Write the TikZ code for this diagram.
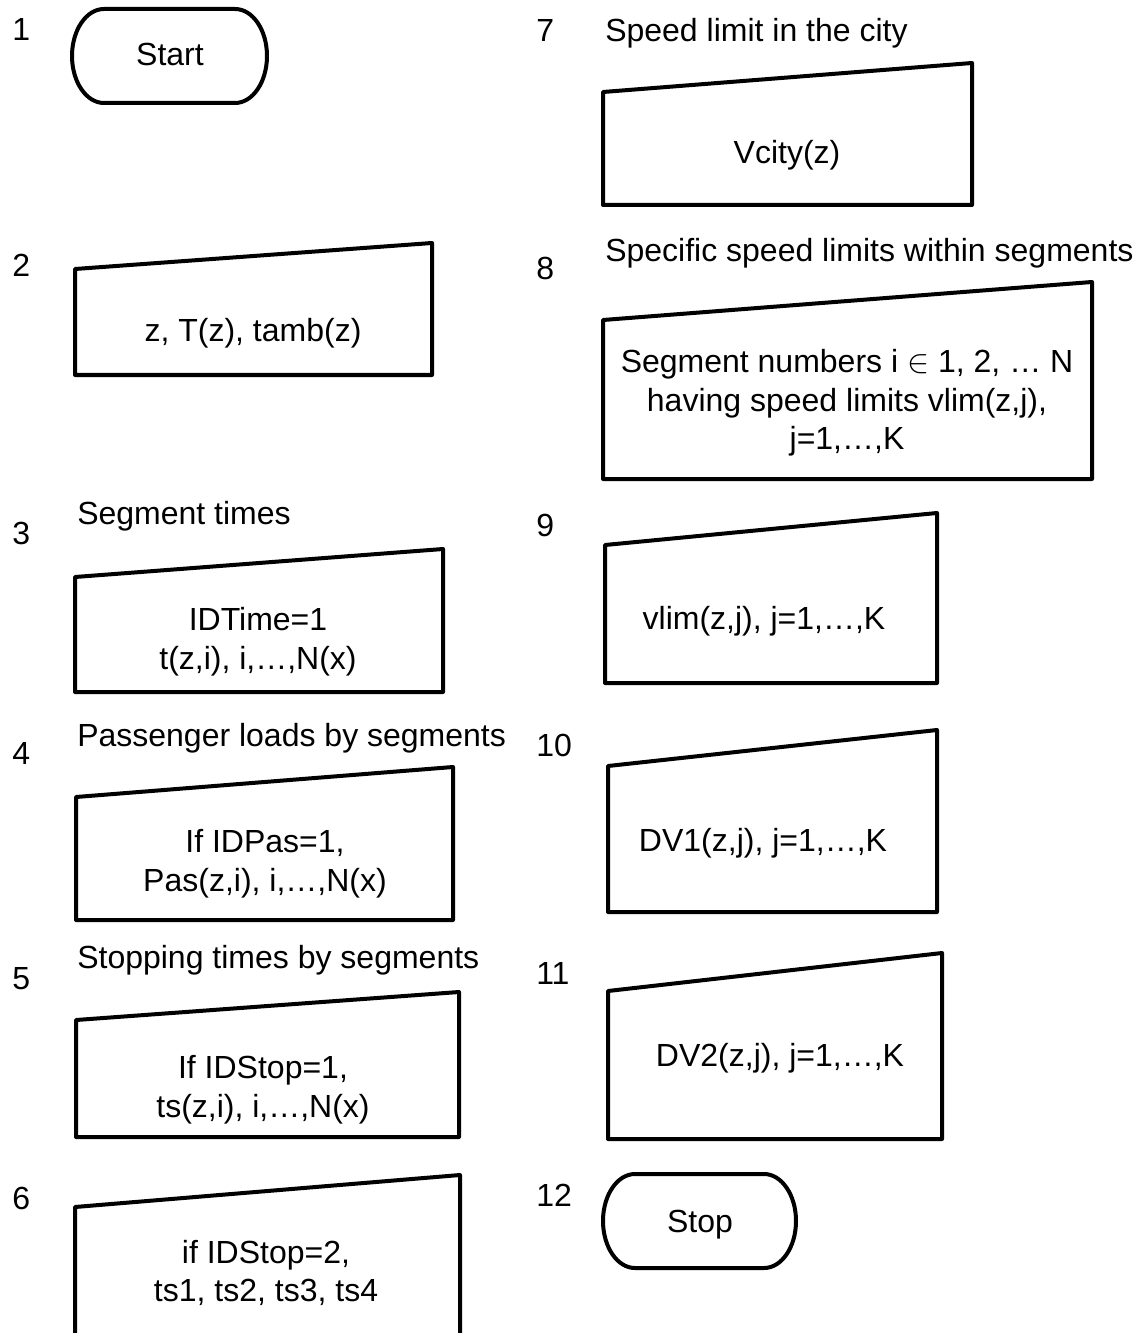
\documentclass[tikz,border=0pt]{standalone}
\usepackage{fontspec}
\setmainfont{Liberation Sans}
% outline of a manual-input block: left, right, top-left y, top-right y, bottom y
\newcommand\manualinput[5]{\draw[frame] (#1,#3) -- (#2,#4) -- (#2,#5) -- (#1,#5) -- cycle;}
% terminator (rounded ends): left, right, top, bottom
\newcommand\terminal[4]{\draw[frame] ({#1+32},#3) -- ({#2-32},#3)
  arc[start angle=90,end angle=-90,x radius=24pt,y radius={(#4-#3)*0.375pt}]
  -- ({#1+32},#4)
  arc[start angle=270,end angle=90,x radius=24pt,y radius={(#4-#3)*0.375pt}] -- cycle;}
\begin{document}
\begin{tikzpicture}[x=0.75pt,y=-0.75pt,
  frame/.style={line width=3pt,line join=round},
  txt/.style={font=\fontsize{24}{29}\selectfont,inner sep=0pt,text height=17.2pt,text depth=0pt},
  multi/.style={font=\fontsize{24}{29}\selectfont,inner sep=0pt,align=center},
  num/.style={txt,anchor=west},
  head/.style={txt,anchor=west}]
\useasboundingbox (0,0) rectangle (1143,1333);
\clip (0,0) rectangle (1143,1333);

% left column
\node[num] (n1) at (12,29) {1};
\terminal{72}{267}{9}{103}
\node[txt] (start) at (170,54) {Start};

\node[num] (n2) at (12,265) {2};
\manualinput{75}{432}{269}{243}{375}
\node[txt] (b2) at (253,330) {z, T(z), tamb(z)};

\node[num] (n3) at (12,533) {3};
\node[head] (h3) at (77,513) {Segment times};
\manualinput{75}{443}{577}{549}{692}
\node[multi] (b3) at (258,642) {IDTime=1\\t(z,i), i,\dots,N(x)};

\node[num] (n4) at (12,753) {4};
\node[head] (h4) at (77,735) {Passenger loads by segments};
\manualinput{76}{453}{797}{767}{920}
\node[multi] (b4) at (265,864) {If IDPas=1,\\Pas(z,i), i,\dots,N(x)};

\node[num] (n5) at (12,978) {5};
\node[head] (h5) at (77,957) {Stopping times by segments};
\manualinput{76}{459}{1020}{992}{1137}
\node[multi] (b5) at (263,1090) {If IDStop=1,\\ts(z,i), i,\dots,N(x)};

\node[num] (n6) at (12,1198) {6};
\manualinput{75}{460}{1207}{1175}{1345}
\node[multi] (b6) at (266,1273) {if IDStop=2,\\ts1, ts2, ts3, ts4};

% right column
\node[num] (n7) at (536,30) {7};
\node[head] (h7) at (605,30) {Speed limit in the city};
\manualinput{603}{972}{92}{63}{205}
\node[txt] (b7) at (787,152) {Vcity(z)};

\node[num] (n8) at (536,268) {8};
\node[head] (h8) at (605,250) {Specific speed limits within segments};
\manualinput{603}{1092}{320}{282}{479}
\node[multi] (b8) at (847,403) {Segment numbers i \ensuremath{\in} 1, 2, \dots{} N\\having speed limits vlim(z,j),\\j=1,\dots,K};

\node[num] (n9) at (536,525) {9};
\manualinput{605}{937}{545}{513}{683}
\node[txt] (b9) at (764,618) {vlim(z,j), j=1,\dots,K};

\node[num] (n10) at (536,745) {10};
\manualinput{608}{937}{766}{730}{912}
\node[txt] (b10) at (763,840) {DV1(z,j), j=1,\dots,K};

\node[num] (n11) at (536,973) {11};
\manualinput{608}{942}{991}{953}{1139}
\node[txt] (b11) at (780,1055) {DV2(z,j), j=1,\dots,K};

\node[num] (n12) at (536,1195) {12};
\terminal{603}{796}{1174}{1268}
\node[txt] (stop) at (700,1221) {Stop};
\end{tikzpicture}
\end{document}
